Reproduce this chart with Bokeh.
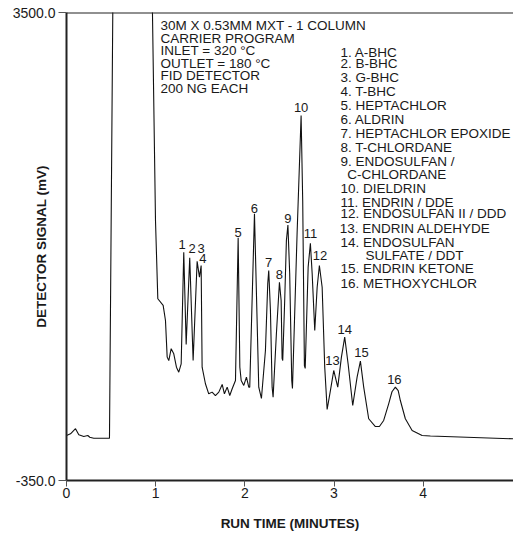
from bokeh.plotting import figure
from bokeh.models import (Range1d, FixedTicker, PrintfTickFormatter, Span, ColumnDataSource)
from bokeh.core.properties import value
from bokeh.embed import file_html
from bokeh.resources import INLINE

# ---------------- data ----------------
time_min = [0.000, 0.045, 0.101, 0.138, 0.194, 0.239, 0.261, 0.306, 0.482, 0.519,
            0.530, 0.940, 0.964, 0.998, 1.024, 1.084, 1.110, 1.129, 1.147, 1.174,
            1.203, 1.233, 1.259, 1.286, 1.315, 1.342, 1.382, 1.420, 1.465, 1.491,
            1.510, 1.521, 1.558, 1.595, 1.633, 1.670, 1.708, 1.746, 1.771, 1.802,
            1.831, 1.858, 1.895, 1.925, 1.944, 1.959, 1.988, 2.018, 2.044, 2.055,
            2.108, 2.156, 2.186, 2.231, 2.257, 2.268, 2.287, 2.306, 2.317, 2.354,
            2.388, 2.407, 2.418, 2.425, 2.447, 2.466, 2.483, 2.503, 2.526, 2.534,
            2.586, 2.631, 2.649, 2.668, 2.677, 2.710, 2.735, 2.755, 2.784, 2.811,
            2.836, 2.867, 2.896, 2.923, 2.960, 2.997, 3.042, 3.083, 3.120, 3.158,
            3.210, 3.259, 3.296, 3.333, 3.389, 3.464, 3.509, 3.557, 3.613, 3.650,
            3.688, 3.720, 3.744, 3.800, 3.876, 3.988, 4.081, 5.013]
signal_mv = [20, 34, 76, 26, 12, 20, 6, -2, -2, 3500,
             4600, 4600, 3500, 1789, 1145, 1090, 966, 665, 637, 734,
             692, 582, 541, 610, 1528, 769, 1482, 637, 1454, 1323,
             1419, 582, 446, 363, 377, 349, 377, 440, 363, 418,
             349, 405, 473, 1647, 582, 473, 432, 500, 418, 418,
             1844, 418, 325, 720, 1271, 1378, 1049, 418, 335, 859,
             1281, 1131, 654, 637, 1131, 1624, 1752, 1353, 473, 407,
             1682, 2653, 1953, 596, 572, 1405, 1602, 1353, 884, 1240,
             1419, 1240, 582, 234, 391, 555, 418, 665, 829, 610,
             267, 500, 632, 418, 158, 94, 94, 144, 281, 380,
             418, 390, 308, 158, 62, 20, 16, -7]

peak_ids = [str(i) for i in range(1, 17)]
peak_time = [1.315, 1.382, 1.465, 1.510, 1.925, 2.108, 2.268, 2.388,
             2.483, 2.631, 2.735, 2.836, 2.997, 3.120, 3.296, 3.688]
peak_signal = [1528, 1482, 1454, 1419, 1647, 1844, 1378, 1281,
               1752, 2653, 1602, 1419, 555, 829, 632, 418]

x_ticks = [0, 1, 2, 3, 4]
y_ticks = [-350, 3500]

conditions = ["30M X 0.53MM MXT - 1 COLUMN", "CARRIER PROGRAM", "INLET = 320 \u00b0C",
              "OUTLET = 180 \u00b0C", "FID DETECTOR", "200 NG EACH"]
legend_lines = ["1. A-BHC", "2. B-BHC", "3. G-BHC", "4. T-BHC", "5. HEPTACHLOR",
                "6. ALDRIN", "7. HEPTACHLOR EPOXIDE", "8. T-CHLORDANE",
                "9. ENDOSULFAN /", "C-CHLORDANE", "10. DIELDRIN", "11. ENDRIN / DDE",
                "12. ENDOSULFAN II / DDD", "13. ENDRIN ALDEHYDE", "14. ENDOSULFAN",
                "SULFATE / DDT", "15. ENDRIN KETONE", "16. METHOXYCHLOR"]

# ---------------- layout helpers (page pixels -> data) ----------------
W, H = 513, 537
FL, FT, FB = 66.0, 12.0, 480.0
PXM = 89.17
X0, X1 = 0.0, (W - FL) / PXM
Y0, Y1 = -350.0, 3500.0


def dx(px):
    return (px - FL) / PXM


def dy(py):
    return Y1 - (py - FT) * (Y1 - Y0) / (FB - FT)


FONT = "Liberation Sans"
TXT = "#1a1a1a"

p = figure(width=W, height=H, x_range=Range1d(X0, X1), y_range=Range1d(Y0, Y1),
           output_backend="svg", toolbar_location=None,
           min_border_left=int(FL), min_border_right=0, min_border_top=int(FT),
           min_border_bottom=int(H - FB))
p.outline_line_color = None
p.xgrid.visible = False
p.ygrid.visible = False
p.background_fill_color = "white"
p.border_fill_color = "white"

for ax in (p.xaxis[0], p.yaxis[0]):
    ax.axis_line_width = 2
    ax.axis_line_color = "#222222"
    ax.major_tick_line_color = "#555555"
    ax.major_tick_in = 0
    ax.minor_tick_line_color = None
    ax.major_label_text_font = FONT
    ax.major_label_text_font_size = "14px"
    ax.major_label_text_color = TXT
    ax.axis_label_text_font = FONT
    ax.axis_label_text_font_style = "bold"
    ax.axis_label_text_font_size = "13.5px"
    ax.axis_label_text_color = TXT

p.xaxis.ticker = FixedTicker(ticks=x_ticks)
p.xaxis.major_tick_out = 6
p.xaxis.major_label_standoff = 1
p.xaxis.axis_label = "RUN TIME (MINUTES)"
p.xaxis.axis_label_standoff = 15

p.yaxis.ticker = FixedTicker(ticks=y_ticks)
p.yaxis.formatter = PrintfTickFormatter(format="%.1f")
p.yaxis.major_tick_out = 8
p.yaxis.major_label_standoff = 3
p.yaxis.axis_label = "DETECTOR SIGNAL (mV)"
p.yaxis.axis_label_standoff = -39

p.add_layout(Span(location=Y1, dimension="width", line_width=2, line_color="#222222"))

p.line(time_min, signal_mv, line_color="#111111", line_width=1.1)

# peak numbers
pk_dx = [-1.6, 2.4, 4.0, 1.6, 0, 0, 0, 0, 0, 0, 0, 0.7, -1.3, 0, 1, -1]
pk_dy = [-7.7, -9, -12.4, -6.7, -5.6, -5.7, -8.3, -7.7, -6.7, -7.7, -10, -9.7, -10, -8, -9, -7.4]
src = ColumnDataSource(dict(x=peak_time, y=peak_signal, t=peak_ids, xo=pk_dx, yo=pk_dy))
p.text(x="x", y="y", text="t", x_offset="xo", y_offset="yo", source=src,
       text_align="center", text_baseline="middle", text_font=value(FONT),
       text_font_size="13px", text_color=TXT)

# conditions block
cond_y = [25.0 + 12.55 * i for i in range(len(conditions))]
p.text(x=[dx(160)] * len(conditions), y=[dy(v) for v in cond_y], text=conditions,
       text_align="left", text_baseline="middle", text_font=value(FONT),
       text_font_size="13.5px", text_color=TXT)

# compound list
leg_y = [51.7, 63.3, 77.3, 90.7, 105, 119, 133.3, 146.7, 160.7, 174, 187.7, 201.7,
         213.3, 228.3, 241.7, 255, 268.3, 282.7]
leg_x = [340] * len(legend_lines)
leg_x[9] = 346.7
leg_x[13] = 339.3
leg_x[15] = 365
p.text(x=[dx(v) for v in leg_x], y=[dy(v) for v in leg_y], text=legend_lines,
       text_align="left", text_baseline="middle", text_font=value(FONT),
       text_font_size="13.5px", text_color=TXT)

open("out.html", "w").write(file_html(p, INLINE))
